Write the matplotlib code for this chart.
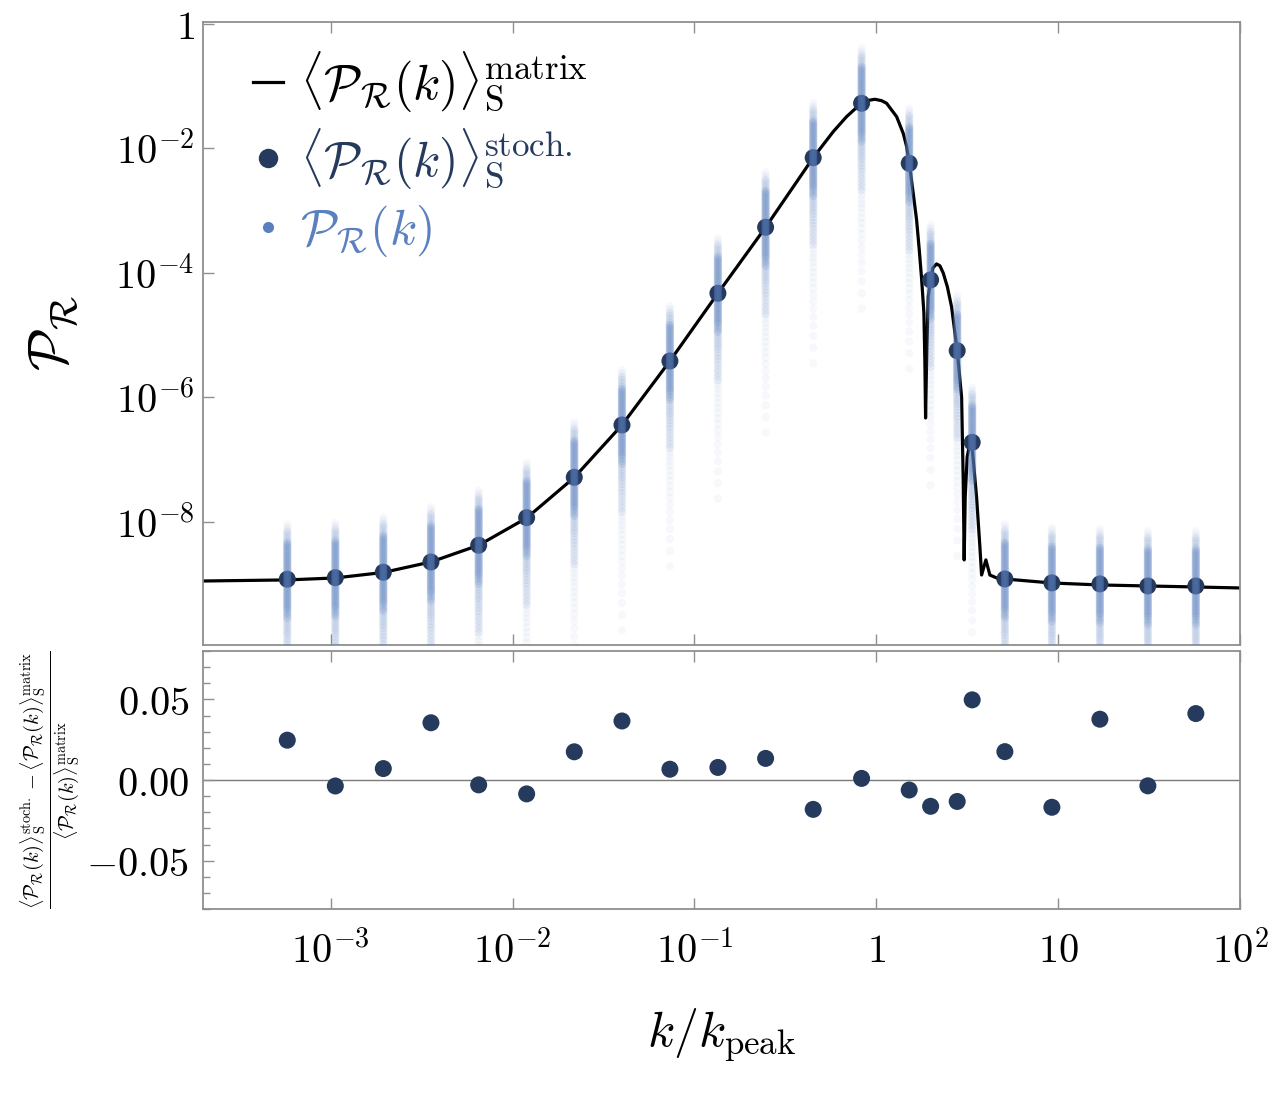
import numpy as np
import matplotlib
matplotlib.use('Agg')
import matplotlib.pyplot as plt
from matplotlib.lines import Line2D
from matplotlib.ticker import NullLocator, MultipleLocator

plt.rcParams['mathtext.fontset'] = 'cm'

# stochastic sample means (dots) and relative difference to matrix result
k_stoch = [5.77e-4, 1.060e-3, 1.946e-3, 3.558e-3, 6.51e-3, 1.195e-2, 2.184e-2,
           3.995e-2, 7.33e-2, 0.1346, 0.2462, 0.4498, 0.830, 1.517, 1.989,
           2.785, 3.367, 5.093, 9.235, 16.96, 31.13, 57.15]
P_stoch = [1.19e-9, 1.26e-9, 1.54e-9, 2.25e-9, 4.18e-9, 1.16e-8, 5.16e-8,
           3.57e-7, 3.81e-6, 4.67e-5, 5.36e-4, 7.03e-3, 5.26e-2, 5.71e-3,
           7.64e-5, 5.58e-6, 1.88e-7, 1.20e-9, 1.04e-9, 1.00e-9, 9.27e-10, 9.27e-10]
rel_diff = [0.0247, -0.0037, 0.0071, 0.0355, -0.0030, -0.0086, 0.0175, 0.0366,
            0.0067, 0.0078, 0.0134, -0.0182, 0.0010, -0.0062, -0.0163, -0.0133,
            0.0497, 0.0176, -0.0169, 0.0377, -0.0036, 0.0412]

# matrix result (solid line)
k_matrix = [1.99e-4, 5.77e-4, 1.060e-3, 1.946e-3, 3.558e-3, 6.51e-3, 1.195e-2,
            2.184e-2, 3.995e-2, 7.33e-2, 0.1346, 0.2462, 0.4498, 0.5796, 0.6866,
            0.830, 0.8845, 0.9824, 1.069, 1.139, 1.293, 1.406, 1.468, 1.517,
            1.596, 1.665, 1.721, 1.775, 1.827, 1.850, 1.866, 1.897, 1.929,
            1.989, 2.047, 2.145, 2.237, 2.333, 2.460, 2.594, 2.785, 2.944,
            3.005, 3.042, 3.082, 3.160, 3.27, 3.34, 3.559, 3.711, 3.793, 4.004,
            4.212, 4.585, 5.093, 9.235, 16.96, 31.13, 57.15, 100.0]
P_matrix = [1.114e-9, 1.159e-9, 1.247e-9, 1.528e-9, 2.254e-9, 4.18e-9, 1.146e-8,
            5.13e-8, 3.57e-7, 3.81e-6, 4.67e-5, 5.36e-4, 7.03e-3, 1.84e-2, 3.21e-2,
            5.32e-2, 5.79e-2, 6.10e-2, 5.79e-2, 5.26e-2, 3.21e-2, 1.73e-2, 1.06e-2,
            5.75e-3, 1.88e-3, 7.08e-4, 2.40e-4, 7.9e-5, 2.24e-5, 3.5e-6, 4.63e-7,
            6.46e-6, 4.12e-5, 7.59e-5, 1.19e-4, 1.38e-4, 1.29e-4, 9.89e-5, 5.89e-5,
            2.81e-5, 5.58e-6, 1.007e-6, 4.68e-8, 2.43e-9, 2.5e-8, 1.1e-7, 1.82e-7,
            1.98e-7, 2.49e-8, 3.98e-9, 1.39e-9, 2.43e-9, 1.39e-9, 1.25e-9, 1.20e-9,
            1.035e-9, 9.62e-10, 9.27e-10, 8.93e-10, 8.61e-10]

# spread of individual realisations around each mean, in decades
spread_core_dex = [0.58, 0.55, 0.52, 0.49, 0.46, 0.43, 0.40, 0.37, 0.34, 0.31,
                   0.28, 0.25, 0.22, 0.19, 0.16, 0.13, 0.10, 0.07, 0.04, 0.01,
                   -0.02, -0.05, -0.08, -0.11, -0.14, -0.17, -0.20, -0.23, -0.26,
                   -0.29, -0.32, -0.35, -0.38, -0.41, -0.44, -0.47, -0.50, -0.54,
                   -0.58, -0.62]
spread_mid_dex = [0.76, 0.72, 0.68, 0.64, 0.61, -0.66, -0.70, -0.74, -0.78, -0.82,
                  -0.86, -0.90, -0.95, -1.00, -1.05, -1.10, -1.16, -1.22, -1.28,
                  -1.34, -1.40]
spread_far_dex = [0.88, 0.83, 0.79, -1.47, -1.54, -1.61, -1.68, -1.76, -1.84,
                  -1.92, -2.01, -2.10, -2.20, -2.31, -2.43, -2.56, -2.70, -2.86,
                  -3.05, -3.3]

xtick_vals = [1e-3, 1e-2, 1e-1, 1, 10, 100]
xtick_text = [r'$10^{-3}$', r'$10^{-2}$', r'$10^{-1}$', r'$1$', r'$10$', r'$10^{2}$']
ytick_vals = [1, 1e-2, 1e-4, 1e-6, 1e-8]
ytick_text = [r'$1$', r'$10^{-2}$', r'$10^{-4}$', r'$10^{-6}$', r'$10^{-8}$']
rtick_vals = [-0.05, 0.0, 0.05]
rtick_text = [r'$-0.05$', r'$0.00$', r'$0.05$']

navy = '#263a5e'
light = '#5b80bf'
spine_c = '#8f8f8f'

fig = plt.figure(figsize=(12.73, 10.93), dpi=100)
ax1 = fig.add_axes([0.1595, 0.4099, 0.8146, 0.5700])
ax2 = fig.add_axes([0.1595, 0.1683, 0.8146, 0.2361])

# top panel
ax1.plot(k_matrix, P_matrix, color='black', lw=2.3, zorder=2)
ax1.scatter(k_stoch, P_stoch, s=150, color=navy, edgecolors='none', zorder=3)
tiers = [(np.array(spread_core_dex), 0.24),
         (np.array(spread_mid_dex), 0.12),
         (np.array(spread_far_dex), 0.05)]
for k, m in zip(k_stoch, P_stoch):
    for offs, a in tiers:
        ax1.scatter(np.full(offs.size, k), m * 10 ** offs, s=36, color=light,
                    alpha=a, edgecolors='none', zorder=4)

ax1.set_xscale('log')
ax1.set_yscale('log')
ax1.set_xlim(1.986e-4, 100)
ax1.set_ylim(1.045e-10, 1.064)

# bottom panel
ax2.axhline(0, color='#7a7a7a', lw=1.0, zorder=1)
ax2.scatter(k_stoch, rel_diff, s=150, color=navy, edgecolors='none', zorder=3)
ax2.set_xscale('log')
ax2.set_xlim(1.986e-4, 100)
ax2.set_ylim(-0.08, 0.08)

for ax in (ax1, ax2):
    ax.set_xticks(xtick_vals)
    ax.set_xticklabels(xtick_text)
    ax.xaxis.set_minor_locator(NullLocator())
    ax.tick_params(axis='x', which='both', direction='in', top=True, bottom=True,
                   length=8, width=1.0, color=spine_c, labelsize=29, pad=16)
    for s in ax.spines.values():
        s.set_color(spine_c)
        s.set_linewidth(1.3)

ax1.tick_params(axis='x', labelbottom=False)
ax1.set_yticks(ytick_vals)
ax1.set_yticklabels(ytick_text)
ax1.yaxis.set_minor_locator(NullLocator())
ax1.tick_params(axis='y', which='both', direction='in', left=True, right=False,
                length=8, width=1.0, color=spine_c, labelsize=29, pad=6)

ax2.set_yticks(rtick_vals)
ax2.set_yticklabels(rtick_text)
ax2.yaxis.set_minor_locator(MultipleLocator(0.01))
ax2.tick_params(axis='y', which='major', direction='in', left=True, right=False,
                length=8, width=1.0, color=spine_c, labelsize=29, pad=10)
ax2.tick_params(axis='y', which='minor', direction='in', left=True, right=False,
                length=5, width=1.0, color=spine_c)

handles = [Line2D([], [], color='black', lw=2.3),
           Line2D([], [], ls='none', marker='o', ms=14, color=navy, mec='none'),
           Line2D([], [], ls='none', marker='o', ms=8, color=light, mec='none')]
labels = [r'$\langle\mathcal{P}_\mathcal{R}(k)\rangle_\mathrm{S}^\mathrm{matrix}$',
          r'$\langle\mathcal{P}_\mathcal{R}(k)\rangle_\mathrm{S}^\mathrm{stoch.}$',
          r'$\mathcal{P}_\mathcal{R}(k)$']
ax1.legend(handles, labels, loc='upper left', bbox_to_anchor=(0.048, 0.955),
           frameon=False, fontsize=36, handlelength=0.6, handletextpad=0.35,
           labelspacing=0.25, borderpad=0, borderaxespad=0,
           labelcolor=['black', navy, light])

fig.text(54 / 1273, 1 - 333 / 1093, r'$\mathcal{P}_\mathcal{R}$', rotation=90,
         fontsize=40, ha='center', va='center')
fig.text(50 / 1273, 1 - 780 / 1093,
         r'$\frac{\langle\mathcal{P}_\mathcal{R}(k)\rangle_\mathrm{S}^\mathrm{stoch.}'
         r'-\langle\mathcal{P}_\mathcal{R}(k)\rangle_\mathrm{S}^\mathrm{matrix}}'
         r'{\langle\mathcal{P}_\mathcal{R}(k)\rangle_\mathrm{S}^\mathrm{matrix}}$',
         rotation=90, fontsize=21, ha='center', va='center')
fig.text(722 / 1273, 1 - 1035 / 1093, r'$k/k_\mathrm{peak}$', fontsize=36,
         ha='center', va='center')

fig.savefig('out.png', dpi=100)
